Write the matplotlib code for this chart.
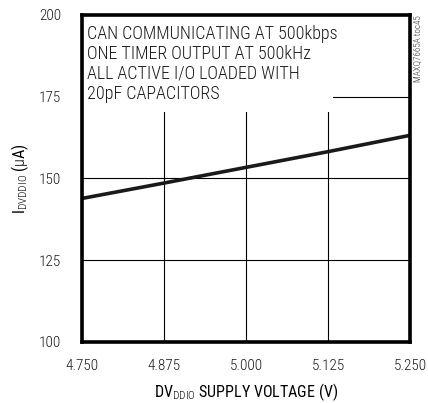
import numpy as np
import matplotlib
matplotlib.use('Agg')
import matplotlib.pyplot as plt
from matplotlib.patches import Rectangle

plt.rcParams['font.family'] = ['Roboto Condensed', 'Archivo Narrow', 'DejaVu Sans']
plt.rcParams['font.weight'] = 'light'
plt.rcParams['mathtext.fontset'] = 'custom'
plt.rcParams['mathtext.rm'] = 'Roboto Condensed:light'
plt.rcParams['mathtext.it'] = 'Roboto Condensed:light'

# data
voltage = [4.750, 4.875, 5.000, 5.125, 5.250]
current = [143.9, 148.6, 153.4, 158.2, 163.2]

x_ticks = [4.750, 4.875, 5.000, 5.125, 5.250]
x_tick_labels = ['4.750', '4.875', '5.000', '5.125', '5.250']
y_ticks = [100, 125, 150, 175, 200]

note = ('CAN COMMUNICATING AT 500kbps\n'
        'ONE TIMER OUTPUT AT 500kHz\n'
        'ALL ACTIVE I/O LOADED WITH\n'
        '20pF CAPACITORS')

fig = plt.figure(figsize=(4.28, 4.03), dpi=100)
ax = fig.add_axes([0.1916, 0.1514, 0.7664, 0.8114])

ax.plot(voltage, current, color='#1a1a1a', lw=2.6, zorder=4)

ax.set_xlim(4.75, 5.25)
ax.set_ylim(100, 200)
ax.set_xticks(x_ticks)
ax.set_xticklabels(x_tick_labels)
ax.set_yticks(y_ticks)
ax.tick_params(length=0, labelsize=11, pad=12, colors='#1a1a1a')
ax.tick_params(axis='y', pad=15)
ax.grid(True, color='black', lw=0.8)
ax.set_axisbelow(True)
for s in ax.spines.values():
    s.set_linewidth(2.6)
    s.set_zorder(6)

# white patch behind the note hides the grid there
ax.add_patch(Rectangle((0, 0.703), 0.765, 0.297, transform=ax.transAxes,
                       facecolor='white', edgecolor='none', zorder=2))
ax.text(0.016, 0.97, note, transform=ax.transAxes, ha='left', va='top',
        fontsize=13, linespacing=1.14, color='#1a1a1a', zorder=3)

ax.set_xlabel(r'DV$_{\mathrm{DDIO}}$ SUPPLY VOLTAGE (V)', fontsize=11.5, labelpad=6)
ax.set_ylabel(r'I$_{\mathrm{DVDDIO}}$ ($\mathrm{\mu}$A)', fontsize=11.5, labelpad=6)

fig.text(0.977, 0.962, 'MAXQ7665A toc45', rotation=90, ha='center', va='top',
         fontsize=6.5, color='#333333')

fig.savefig('out.png', dpi=100)
